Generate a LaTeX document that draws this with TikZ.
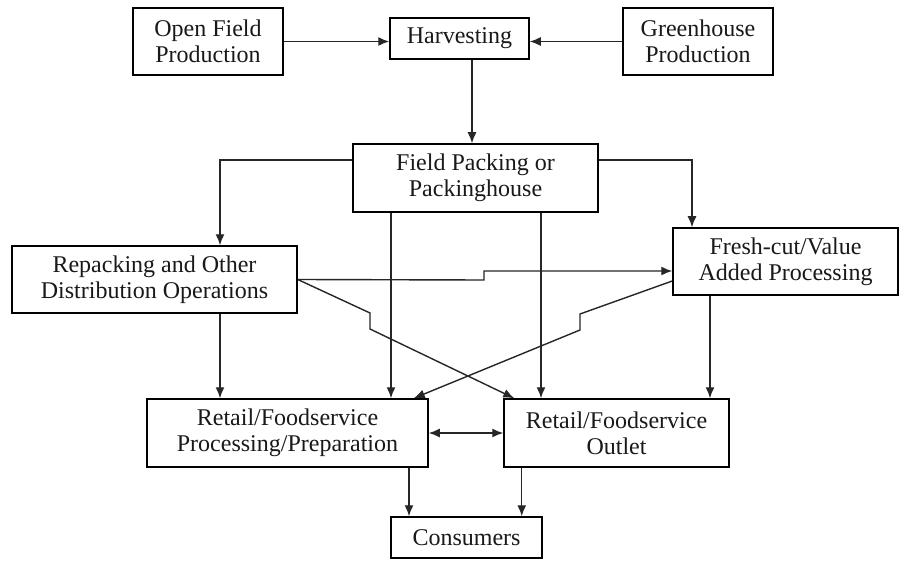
\documentclass[tikz,border=0pt]{standalone}
\usepackage{fontspec}
\setmainfont{Liberation Serif}
\usetikzlibrary{arrows.meta,calc}
\begin{document}
\begin{tikzpicture}[x=1pt,y=-1pt,
  box/.style={draw=black,line width=1.5pt,rectangle,inner sep=0pt,align=center,
    font=\fontsize{24}{26}\selectfont,text=black!90},
  arr/.style={draw=black!85,line width=1.4pt,-{Latex[length=11pt,width=9pt]}},
  darr/.style={draw=black!85,line width=1.4pt,{Latex[length=11pt,width=9pt]}-{Latex[length=11pt,width=9pt]}}]
\useasboundingbox[fill=white] (0,0) rectangle (909,561);
\node[box,minimum width=150pt,minimum height=67pt] (ofp) at (208,41.5) {Open Field\\Production};
\node[box,minimum width=139pt,minimum height=41pt] (harv) at (459.5,38.5) {Harvesting};
\node[box,minimum width=150pt,minimum height=67pt] (gh) at (698,41.5) {Greenhouse\\Production};
\node[box,minimum width=245pt,minimum height=68pt] (fp) at (475.5,178) {Field Packing or\\Packinghouse};
\node[box,minimum width=285pt,minimum height=67pt] (rep) at (154.5,279.5) {Repacking and Other\\Distribution Operations};
\node[box,minimum width=225pt,minimum height=67pt] (fc) at (785.5,261.5) {Fresh-cut/Value\\Added Processing};
\node[box,minimum width=281pt,minimum height=68pt] (rpp) at (287.5,433) {Retail/Foodservice\\Processing/Preparation};
\node[box,minimum width=225pt,minimum height=68pt] (rout) at (616.5,433) {Retail/Foodservice\\Outlet};
\node[box,minimum width=151pt,minimum height=41pt] (cons) at (466.5,537.5) {Consumers};
% top row
\draw[arr] (ofp.east) -- (ofp.east -| harv.west);
\draw[arr] (gh.west) -- (gh.west -| harv.east);
\draw[arr] ([xshift=12.5pt]harv.south) -- ([xshift=12.5pt]harv.south |- fp.north);
% from field packing
\draw[arr] ([yshift=18pt]fp.west) -| ([xshift=65.5pt]rep.north);
\draw[arr] ([yshift=18pt]fp.east) -| ([xshift=-93.5pt]fc.north);
\draw[arr] ([xshift=-84.5pt]fp.south) -- ([xshift=-84.5pt]fp.south |- rpp.north);
\draw[arr] ([xshift=65.5pt]fp.south) -- ([xshift=65.5pt]fp.south |- rout.north);
% verticals
\draw[arr] ([xshift=65.5pt]rep.south) -- ([xshift=65.5pt]rep.south |- rpp.north);
\draw[arr] ([xshift=-75.5pt]fc.south) -- ([xshift=-75.5pt]fc.south |- rout.north);
% repacking -> fresh-cut with jog
\coordinate (r1) at (484,280);
\coordinate (r2) at (484,271);
\draw[arr] (rep.east) -- (r1) -- (r2) -- (r2 -| fc.west);
% repacking -> outlet
\coordinate (a1) at (370,313);
\coordinate (a2) at (370,329);
\draw[arr] (rep.east) -- (a1) -- (a2) -- ([xshift=11pt]rout.north west);
% fresh-cut -> retail proc
\coordinate (b0) at ([yshift=-19.5pt]fc.west);
\coordinate (b1) at (580,314);
\coordinate (b2) at (580,330);
\draw[arr] (b0) -- (b1) -- (b2) -- ([xshift=-15pt]rpp.north east);
% bottom
\draw[darr] (rpp.east) -- (rout.west);
\draw[arr] ([xshift=121.5pt]rpp.south) -- ([xshift=121.5pt]rpp.south |- cons.north);
\draw[arr] ([xshift=18.5pt]rout.south west) -- ([xshift=18.5pt]rout.south west |- cons.north);
\end{tikzpicture}
\end{document}
